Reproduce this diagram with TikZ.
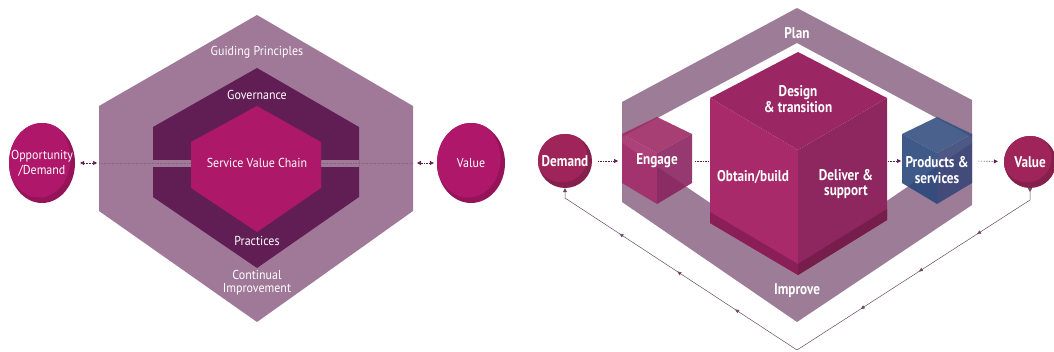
\documentclass[tikz,border=0pt]{standalone}
\usepackage{fontspec}
\setmainfont{PT Sans}
\newfontfamily\narrowsans[FakeStretch=0.92]{PT Sans}
\newfontfamily\condsans[FakeStretch=0.85]{PT Sans}
\usetikzlibrary{arrows.meta, shapes.geometric, decorations.markings}

\definecolor{hexOuter}{HTML}{A07898}
\definecolor{hexMid}{HTML}{611E55}
\definecolor{hexInner}{HTML}{AD1868}
\definecolor{bubbleLight}{HTML}{AF176A}
\definecolor{bubbleDark}{HTML}{951459}
\definecolor{linkPlum}{HTML}{5A1F4F}
\definecolor{frameBand}{HTML}{9C7C97}
\definecolor{cubeTop}{HTML}{9B2664}
\definecolor{cubeLeft}{HTML}{A92A6B}
\definecolor{cubeRight}{HTML}{8E2660}
\definecolor{cubeLeftDark}{HTML}{8A1F57}
\definecolor{cubeRightDark}{HTML}{761D4C}
\definecolor{engTop}{HTML}{9D2A66}
\definecolor{engLeft}{HTML}{A42C6B}
\definecolor{engRight}{HTML}{8A2460}
\definecolor{prodTop}{HTML}{35507F}
\definecolor{prodLeft}{HTML}{2A487C}
\definecolor{prodRight}{HTML}{3A4678}
\definecolor{flowLight}{HTML}{9E2459}
\definecolor{flowDark}{HTML}{84204B}
\definecolor{loopLine}{HTML}{6A4A65}

\tikzset{
  lbl/.style={text=white, align=center, inner sep=0pt,
    font=\fontsize{13}{13}\selectfont\narrowsans},
  boldlbl/.style={text=white, align=center, inner sep=0pt,
    font=\fontsize{15.5}{15.5}\selectfont\condsans\bfseries},
  bubble/.style n args={4}{ellipse, inner sep=0pt, minimum width=2*#1,
    minimum height=2*#2, fill=#4,
    path picture={\fill[#3] ([xshift=-3pt, yshift=4pt]path picture bounding box.center)
      ellipse [x radius=#1pt-1.5pt, y radius=#2pt-1.5pt];}},
  link/.style={densely dotted, line width=0.6pt, draw=linkPlum,
    -{Triangle[length=4pt, width=4pt]}},
}

\begin{document}
\begin{tikzpicture}[x=1pt, y=-1pt]
  \useasboundingbox (0,0) rectangle (1054,352);

  % Left: nested hexagons -------------------------------------------------
  \fill[hexOuter] (257,15) -- (413,106) -- (413,211) -- (257,322)
    -- (99,211) -- (99,106) -- cycle;
  \fill[hexMid] (257,68) -- (359,127) -- (359,197) -- (257,268)
    -- (153,197) -- (153,127) -- cycle;
  \fill[hexOuter] (153,160) rectangle (359,167);
  \fill[hexInner] (257,106) -- (321,142) -- (321,188) -- (257,232)
    -- (191,188) -- (191,142) -- cycle;

  \coordinate (hexW) at (99,163);
  \coordinate (hexE) at (413,163);
  \coordinate (svcW) at (191,163);
  \coordinate (svcE) at (321,163);

  \node[lbl] (guide) at (257,52) {Guiding Principles};
  \node[lbl] (gov)   at (257,95) {Governance};
  \node[lbl] (svc)   at (257,163) {Service Value Chain};
  \node[lbl] (prac)  at (257,241) {Practices};
  \node[lbl] (ci)    at (257,283) {Continual\\Improvement};

  % Left: inputs and outputs ----------------------------------------------
  \node[bubble={33}{40}{bubbleLight}{bubbleDark},
        label={[lbl]center:Opportunity\\[2pt]/Demand}] (opp) at (42,163) {};
  \node[bubble={34}{40}{bubbleLight}{bubbleDark},
        label={[lbl]center:Value}] (val) at (471,163) {};

  \draw[link, {Triangle[length=4pt, width=4pt]}-{Triangle[length=4pt, width=4pt]},
    shorten <=5pt, shorten >=2pt] (opp) -- (hexW);
  \draw[link, {Triangle[length=4pt, width=4pt]}-{Triangle[length=4pt, width=4pt]},
    shorten <=4pt, shorten >=3pt] (hexE) -- (val);
  \draw[densely dotted, linkPlum!70, line width=0.6pt] (hexW) -- (svcW);
  \draw[densely dotted, linkPlum!70, line width=0.6pt] (svcE) -- (hexE);

  % Right: plan/improve frame ---------------------------------------------
  \fill[frameBand, even odd rule]
    (797,8) -- (972,100) -- (972,205) -- (797,322) -- (622,202) -- (622,102) -- cycle
    (797,43) -- (972,137) -- (972,143) -- (797,262) -- (622,143) -- (622,137) -- cycle;
  \node[boldlbl] (plan) at (797,33) {Plan};
  \node[boldlbl] (improve) at (797,291) {Improve};

  % Right: value chain cube -----------------------------------------------
  \fill[cubeTop]   (798,52) -- (887,98) -- (798,150) -- (710,98) -- cycle;
  \fill[cubeLeft]  (710,98) -- (798,150) -- (798,275) -- (710,223) -- cycle;
  \fill[cubeRight] (798,150) -- (887,98) -- (887,220) -- (798,275) -- cycle;
  \fill[cubeLeftDark]  (710,212) -- (798,264) -- (798,275) -- (710,223) -- cycle;
  \fill[cubeRightDark] (798,264) -- (887,209) -- (887,220) -- (798,275) -- cycle;

  \node[boldlbl] (design)  at (798,99)  {Design\\\& transition};
  \node[boldlbl] (obtain)  at (753,177) {Obtain/build};
  \node[boldlbl] (deliver) at (846,184) {Deliver \&\\support};

  % Right: small cubes (engage, products) ---------------------------------
  \begin{scope}[shift={(657,160)}, fill opacity=0.9]
    \fill[engTop]   (0,-43) -- (35,-26) -- (0,-7) -- (-35,-26) -- cycle;
    \fill[engLeft]  (-35,-26) -- (0,-7) -- (0,44) -- (-35,23) -- cycle;
    \fill[engRight] (0,-7) -- (35,-26) -- (35,23) -- (0,44) -- cycle;
  \end{scope}
  \begin{scope}[shift={(937,160)}, fill opacity=0.9]
    \fill[prodTop]   (0,-43) -- (35,-26) -- (0,-7) -- (-35,-26) -- cycle;
    \fill[prodLeft]  (-35,-26) -- (0,-7) -- (0,44) -- (-35,23) -- cycle;
    \fill[prodRight] (0,-7) -- (35,-26) -- (35,23) -- (0,44) -- cycle;
  \end{scope}

  \node[boldlbl] (engage) at (657,161) {Engage};
  \node[boldlbl] (prod) at (937,170) {Products \&\\services};

  \coordinate (engW)  at (622,161);
  \coordinate (engE)  at (692,161);
  \coordinate (cubeW) at (710,161);
  \coordinate (cubeE) at (887,161);
  \coordinate (prodW) at (902,161);
  \coordinate (prodE) at (972,161);

  % Right: demand and value -----------------------------------------------
  \node[bubble={27}{27}{flowLight}{flowDark},
        label={[boldlbl]center:Demand}] (demand) at (565,161) {};
  \node[bubble={26}{26}{flowLight}{flowDark},
        label={[boldlbl]center:Value}] (value) at (1030,162) {};

  \draw[link, shorten <=6pt, shorten >=4pt] (demand) -- (engW);
  \draw[link, -, shorten <=3pt, shorten >=2pt] (engE) -- (cubeW);
  \draw[link, shorten <=1pt, shorten >=1pt] (cubeE) -- (prodW);
  \draw[link, shorten <=6pt, shorten >=6pt] (prodE) -- (value);

  % Feedback loop back to demand ------------------------------------------
  \coordinate (loopR) at (1030,200);
  \coordinate (loopB) at (797,350);
  \coordinate (loopL) at (565,198);
  \draw[loopLine, line width=0.5pt,
        {Triangle[reversed, length=4pt, width=4pt]}-{Triangle[length=4pt, width=4pt]},
        postaction={decorate},
        decoration={markings,
          mark=at position 0.13 with {\arrow{Triangle[length=4pt, width=3.5pt]}},
          mark=at position 0.25 with {\arrow{Triangle[length=4pt, width=3.5pt]}},
          mark=at position 0.37 with {\arrow{Triangle[length=4pt, width=3.5pt]}},
          mark=at position 0.63 with {\arrow{Triangle[length=4pt, width=3.5pt]}},
          mark=at position 0.75 with {\arrow{Triangle[length=4pt, width=3.5pt]}},
          mark=at position 0.87 with {\arrow{Triangle[length=4pt, width=3.5pt]}}}]
    (value) -- (loopR) -- (loopB) -- (loopL) -- (demand);
\end{tikzpicture}
\end{document}
